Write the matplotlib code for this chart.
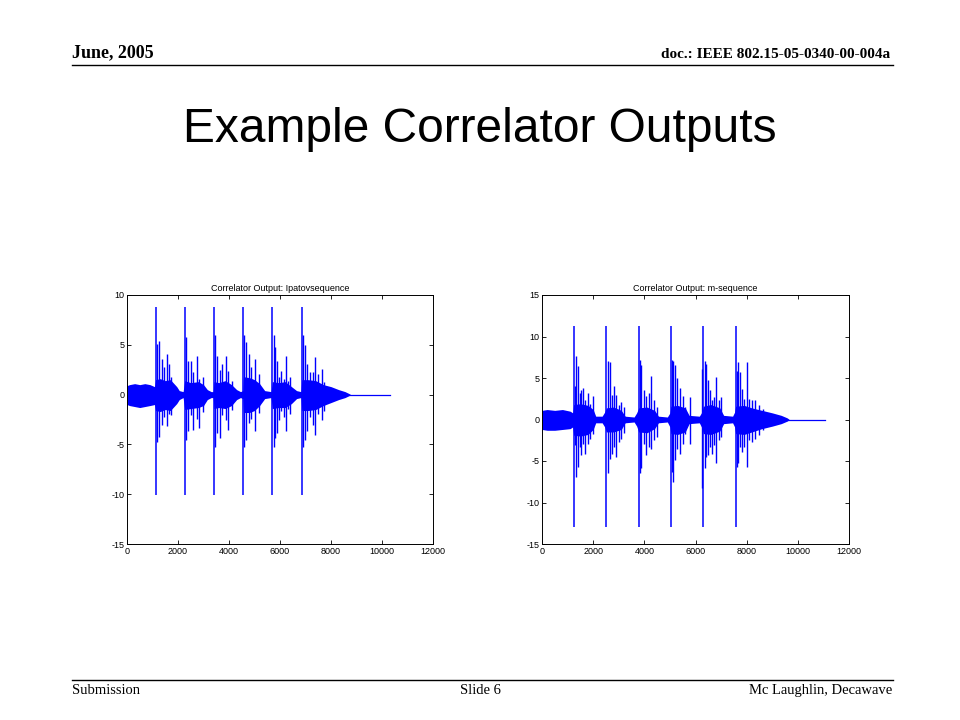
import matplotlib
matplotlib.use("Agg")
import matplotlib.pyplot as plt
from matplotlib.lines import Line2D

# ---- data ----
# Ipatov sequence correlator output
ipatov_len = 10300
ipatov_peak_x = [1120, 2265, 3410, 4565, 5700, 6855]
ipatov_peak_hi = [8.8, 8.8, 8.8, 8.8, 8.8, 8.8]
ipatov_peak_lo = [-10.1, -10.1, -10.1, -10.1, -10.1, -10.1]
ipatov_env_x = [0, 100, 300, 500, 700, 900, 1080,
                1120, 1300, 1500, 1700, 1950, 2050, 2200,
                2265, 2500, 2800, 3000, 3150, 3300, 3380,
                3410, 3600, 3850, 4100, 4300, 4450, 4540,
                4565, 4800, 5000, 5200, 5400, 5650,
                5700, 5950, 6200, 6450, 6650, 6820,
                6855, 7100, 7400, 7700, 8000, 8300, 8550, 8750]
ipatov_env_hi = [0.9, 1.0, 1.1, 1.0, 1.1, 1.0, 0.8,
                 1.5, 1.6, 1.4, 1.5, 0.8, 0.4, 0.3,
                 1.4, 1.2, 1.3, 1.0, 0.5, 0.3, 0.3,
                 1.3, 1.2, 1.4, 1.0, 0.5, 0.3, 0.4,
                 1.8, 1.7, 1.5, 1.1, 0.4, 0.3,
                 1.3, 1.2, 1.3, 0.8, 0.4, 0.3,
                 1.5, 1.5, 1.4, 1.0, 0.8, 0.5, 0.3, 0.05]
ipatov_env_lo = [-1.0, -1.1, -1.2, -1.3, -1.2, -1.1, -1.0,
                 -1.6, -1.7, -1.5, -1.6, -0.9, -0.5, -0.3,
                 -1.5, -1.4, -1.3, -1.1, -0.5, -0.3, -0.3,
                 -1.4, -1.3, -1.4, -1.1, -0.5, -0.3, -0.4,
                 -1.8, -1.8, -1.6, -1.1, -0.4, -0.3,
                 -1.4, -1.3, -1.3, -0.9, -0.4, -0.3,
                 -1.6, -1.6, -1.5, -1.1, -0.8, -0.5, -0.3, -0.05]
ipatov_spike_x = [1184, 1263, 1355, 1448, 1553, 1632, 1711,
                  2316, 2395, 2500, 2593, 2737, 2829, 2961,
                  3448, 3527, 3632, 3737, 3895, 3974, 4106,
                  4606, 4685, 4777, 4869, 5001, 5159,
                  5749, 5802, 5881, 5960, 6052, 6144, 6223, 6315, 6407,
                  6907, 6973, 7065, 7170, 7276, 7368, 7500, 7631, 7723]
ipatov_spike_hi = [5.1, 5.4, 3.6, 2.8, 4.1, 3.1, 1.8,
                   5.8, 3.4, 3.4, 2.3, 3.9, 1.6, 1.8,
                   6.0, 3.9, 2.5, 3.1, 3.9, 2.4, 1.4,
                   6.0, 5.3, 4.1, 2.8, 3.6, 2.1,
                   6.0, 4.8, 3.4, 1.8, 2.4, 1.6, 3.9, 1.4, 1.8,
                   6.0, 5.0, 3.1, 2.3, 2.3, 3.8, 2.1, 2.6, 1.3]
ipatov_spike_lo = [-4.75, -4.25, -3.1, -2.2, -3.2, -1.9, -2.0,
                   -4.6, -3.7, -2.0, -3.6, -2.4, -3.4, -1.7,
                   -5.25, -3.9, -4.4, -2.0, -2.6, -3.6, -1.5,
                   -5.25, -4.6, -2.9, -2.4, -3.7, -1.8,
                   -5.25, -4.4, -3.9, -2.6, -1.6, -2.2, -3.7, -1.4, -1.9,
                   -5.25, -4.6, -3.7, -2.2, -3.1, -4.1, -1.9, -2.6, -1.6]

# m-sequence correlator output
mseq_len = 11050
mseq_peak_x = [1240, 2510, 3780, 5040, 6305, 7570]
mseq_peak_hi = [11.3, 11.3, 11.3, 11.3, 11.3, 11.3]
mseq_peak_lo = [-12.9, -12.9, -12.9, -12.9, -12.9, -12.9]
mseq_env_x = [0, 200, 500, 800, 1100, 1200,
              1240, 1500, 1800, 2000, 2100, 2350, 2450,
              2515, 2800, 3100, 3250, 3600, 3700,
              3780, 4100, 4400, 4550, 4900, 5000,
              5040, 5300, 5600, 5750, 6150, 6250,
              6305, 6600, 6950, 7100, 7450, 7530,
              7570, 7900, 8200, 8600, 9000, 9350, 9580, 9650]
mseq_env_hi = [1.1, 1.2, 1.1, 1.2, 1.0, 0.8,
               1.8, 1.9, 1.7, 1.2, 0.4, 0.4, 0.9,
               1.4, 1.5, 1.1, 0.4, 0.3, 0.8,
               1.4, 1.5, 1.1, 0.4, 0.3, 0.8,
               1.6, 1.7, 1.4, 0.5, 0.4, 0.9,
               1.6, 1.8, 1.4, 0.5, 0.4, 0.9,
               1.6, 1.7, 1.4, 1.1, 0.8, 0.5, 0.2, 0.05]
mseq_env_lo = [-1.2, -1.3, -1.3, -1.2, -1.1, -0.9,
               -1.9, -2.0, -1.8, -1.2, -0.4, -0.4, -0.9,
               -1.5, -1.5, -1.2, -0.4, -0.3, -0.8,
               -1.5, -1.6, -1.1, -0.4, -0.3, -0.9,
               -1.7, -1.8, -1.5, -0.5, -0.4, -1.0,
               -1.7, -1.8, -1.4, -0.5, -0.4, -0.9,
               -1.7, -1.8, -1.5, -1.1, -0.8, -0.5, -0.2, -0.05]
mseq_spike_x = [1277, 1316, 1394, 1472, 1538, 1603, 1694, 1798, 1889, 1981,
                2567, 2658, 2736, 2801, 2893, 2997, 3101, 3192,
                3818, 3883, 3974, 4065, 4170, 4274, 4378, 4495,
                5069, 5134, 5212, 5290, 5394, 5499, 5603, 5772,
                6267, 6359, 6424, 6476, 6554, 6645, 6736, 6815, 6906, 6997,
                7609, 7649, 7727, 7818, 7909, 8013, 8092, 8209, 8339, 8469, 8639]
mseq_spike_hi = [4.0, 7.6, 6.4, 3.2, 3.6, 3.8, 2.3, 3.2, 1.9, 2.8,
                 7.1, 6.9, 2.9, 4.0, 2.9, 1.7, 2.1, 1.5,
                 7.2, 6.6, 3.6, 2.8, 3.2, 5.2, 2.3, 1.5,
                 7.2, 7.0, 6.6, 5.0, 3.8, 2.8, 1.5, 2.7,
                 6.1, 7.1, 6.7, 4.7, 3.5, 2.3, 2.7, 5.1, 2.3, 2.7,
                 5.9, 6.9, 5.7, 3.7, 2.5, 6.9, 2.5, 2.3, 2.3, 1.7, 1.3]
mseq_spike_lo = [-3.1, -6.9, -5.7, -3.3, -4.3, -2.9, -4.1, -2.9, -2.3, -1.7,
                 -6.5, -4.7, -4.1, -3.3, -4.5, -2.7, -2.3, -1.6,
                 -6.5, -5.9, -2.9, -4.3, -3.3, -3.5, -2.5, -2.1,
                 -6.3, -7.5, -4.9, -3.5, -4.1, -2.9, -1.7, -2.9,
                 -8.2, -5.9, -4.5, -4.3, -3.3, -4.1, -3.1, -5.3, -2.5, -2.1,
                 -5.7, -5.3, -3.3, -3.9, -3.3, -5.7, -2.5, -2.7, -2.3, -1.9, -1.3]

x_ticks = [0, 2000, 4000, 6000, 8000, 10000, 12000]
blue = "#0000ff"


def draw_panel(ax, title, length, env_x, env_hi, env_lo,
               sp_x, sp_hi, sp_lo, pk_x, pk_hi, pk_lo, ylim, yticks):
    ax.plot([0, length], [0, 0], color=blue, lw=0.9)
    ax.fill_between(env_x, env_lo, env_hi, color=blue, lw=0)
    ax.vlines(sp_x, sp_lo, sp_hi, color=blue, lw=1.0)
    ax.vlines(pk_x, pk_lo, pk_hi, color=blue, lw=1.1)
    ax.set_xlim(0, 12000)
    ax.set_ylim(*ylim)
    ax.set_xticks(x_ticks)
    ax.set_yticks(yticks)
    ax.tick_params(direction="in", top=True, right=True, length=3,
                   width=0.6, labelsize=6.5, pad=2)
    for s in ax.spines.values():
        s.set_linewidth(0.7)
    ax.set_title(title, fontsize=6.5, pad=3)


plt.rcParams["font.family"] = ["Liberation Sans", "DejaVu Sans"]
plt.rcParams["axes.unicode_minus"] = False
fig = plt.figure(figsize=(9.6, 7.2), dpi=100)

ax1 = fig.add_axes([127 / 960, 1 - 544 / 720, 306 / 960, 249 / 720])
draw_panel(ax1, "Correlator Output: Ipatovsequence", ipatov_len,
           ipatov_env_x, ipatov_env_hi, ipatov_env_lo,
           ipatov_spike_x, ipatov_spike_hi, ipatov_spike_lo,
           ipatov_peak_x, ipatov_peak_hi, ipatov_peak_lo,
           (-15, 10), [-15, -10, -5, 0, 5, 10])

ax2 = fig.add_axes([542 / 960, 1 - 544 / 720, 307 / 960, 249 / 720])
draw_panel(ax2, "Correlator Output: m-sequence", mseq_len,
           mseq_env_x, mseq_env_hi, mseq_env_lo,
           mseq_spike_x, mseq_spike_hi, mseq_spike_lo,
           mseq_peak_x, mseq_peak_hi, mseq_peak_lo,
           (-15, 15), [-15, -10, -5, 0, 5, 10, 15])

# slide header / footer
serif = ["Liberation Serif", "DejaVu Serif"]
fig.text(72 / 960, 1 - 57 / 720, "June, 2005", family=serif,
         weight="bold", fontsize=13, ha="left", va="baseline")
fig.text(890 / 960, 1 - 58 / 720, "doc.: IEEE 802.15-05-0340-00-004a",
         family=serif, weight="bold", fontsize=11, ha="right", va="baseline")
fig.add_artist(Line2D([72 / 960, 893 / 960], [1 - 64.5 / 720, 1 - 64.5 / 720],
                      color="black", lw=1.0))

fig.text(480 / 960, 1 - 130 / 720, "Example Correlator Outputs",
         family=["Liberation Sans", "DejaVu Sans"], fontsize=34.5,
         ha="center", va="center")

fig.add_artist(Line2D([72 / 960, 893 / 960], [1 - 680 / 720, 1 - 680 / 720],
                      color="black", lw=1.0))
fig.text(72 / 960, 1 - 694 / 720, "Submission", family=serif,
         fontsize=10.5, ha="left", va="baseline")
fig.text(480 / 960, 1 - 694 / 720, "Slide 6", family=serif,
         fontsize=10.5, ha="center", va="baseline")
fig.text(892 / 960, 1 - 694 / 720, "Mc Laughlin, Decawave", family=serif,
         fontsize=10.5, ha="right", va="baseline")

fig.savefig("out.png", dpi=100)
